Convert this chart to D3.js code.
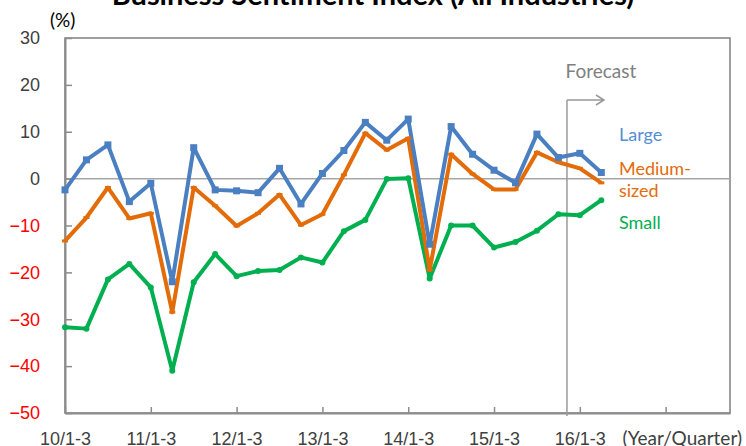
<!DOCTYPE html>
<html>
<head>
<meta charset="utf-8">
<script src="https://cdn.jsdelivr.net/npm/d3@7"></script>
<style>
	body { margin: 0; background: #fff; }
	svg { display: block; font-family: Lato, "Noto Sans", sans-serif; }
	.axis text { font-size: 18px; }
	.axis .domain { stroke: #8c8c8c; stroke-width: 2; }
	.axis .tick line { stroke: #8c8c8c; stroke-width: 1.5; }
	.series { fill: none; stroke-width: 4; stroke-linejoin: round; }
</style>
</head>
<body>
<div id="chart"></div>
<script>

var quarters = [
	"10/1-3","10/4-6","10/7-9","10/10-12",
	"11/1-3","11/4-6","11/7-9","11/10-12",
	"12/1-3","12/4-6","12/7-9","12/10-12",
	"13/1-3","13/4-6","13/7-9","13/10-12",
	"14/1-3","14/4-6","14/7-9","14/10-12",
	"15/1-3","15/4-6","15/7-9","15/10-12",
	"16/1-3","16/4-6","16/7-9","16/10-12",
	"17/1-3","17/4-6","17/7-9","17/10-12"
];

var xTickLabels = ["10/1-3","11/1-3","12/1-3","13/1-3","14/1-3","15/1-3","16/1-3"];
var yTicks = [30, 20, 10, 0, -10, -20, -30, -40, -50];

var large = [-2.4, 4.0, 7.2, -4.9, -1.0, -22.0, 6.6, -2.4, -2.6, -3.0, 2.2, -5.4, 1.1, 6.0, 12.0, 8.2,
	12.7, -14.0, 11.1, 5.2, 1.8, -0.9, 9.5, 4.5, 5.4, 1.3];
var medium = [-13.3, -8.3, -1.9, -8.5, -7.4, -28.5, -1.9, -5.8, -10.1, -7.4, -3.4, -9.9, -7.6, 0.8, 9.7, 6.1,
	8.6, -19.5, 5.2, 1.0, -2.3, -2.3, 5.6, 3.5, 2.2, -0.9];
var small = [-31.7, -32.0, -21.5, -18.2, -23.2, -41.0, -22.1, -16.1, -20.8, -19.7, -19.5, -16.8, -17.9, -11.2, -8.8, -0.1,
	0.1, -21.3, -10.0, -10.0, -14.7, -13.5, -11.1, -7.6, -7.8, -4.6];

var forecastStart = 23.4; // position in quarters, between 15/10-12 and 16/1-3

var width = 746, height = 446,
	margin = {top: 38, right: 16, bottom: 33, left: 65},
	w = width - margin.left - margin.right,
	h = height - margin.top - margin.bottom;

var x = d3.scalePoint().domain(quarters).range([0, w]);
var xi = d3.scaleLinear().domain([0, quarters.length - 1]).range([0, w]);
var y = d3.scaleLinear().domain([-50, 30]).range([h, 0]);

var svg = d3.select("#chart").append("svg")
	.attr("width", width)
	.attr("height", height);

svg.append("text")
	.attr("x", 373)
	.attr("y", 5)
	.attr("text-anchor", "middle")
	.style("font-size", "29px")
	.style("font-weight", "bold")
	.attr("fill", "#000")
	.text("Business Sentiment Index (All Industries)");

svg.append("text")
	.attr("x", 50)
	.attr("y", 27)
	.style("font-size", "19px")
	.attr("fill", "#000")
	.text("(%)");

var g = svg.append("g")
	.attr("transform", "translate(" + margin.left + "," + margin.top + ")");

// plot border
g.append("rect")
	.attr("width", w)
	.attr("height", h)
	.attr("fill", "none")
	.attr("stroke", "#7f7f7f")
	.attr("stroke-width", 1.5);

// zero line
g.append("line")
	.attr("x1", 0).attr("x2", w)
	.attr("y1", y(0)).attr("y2", y(0))
	.attr("stroke", "#a6a6a6")
	.attr("stroke-width", 1.5);

var yAxis = d3.axisLeft(y)
	.tickValues(yTicks)
	.tickSizeInner(-7)
	.tickSizeOuter(0)
	.tickPadding(25);

var yAxisG = g.append("g").attr("class", "y axis").call(yAxis);
yAxisG.selectAll(".tick text")
	.attr("fill", function(d) { return d < 0 ? "#ff0000" : "#404040"; });

var xAxis = d3.axisBottom(x)
	.tickValues(quarters.filter(function(q) { return q.slice(-4) == "/1-3"; }))
	.tickFormat(function(d) { return xTickLabels.indexOf(d) >= 0 ? d : ""; })
	.tickSizeInner(-6)
	.tickSizeOuter(0)
	.tickPadding(19);

var xAxisG = g.append("g")
	.attr("class", "x axis")
	.attr("transform", "translate(0," + h + ")")
	.call(xAxis);
xAxisG.selectAll(".tick text").attr("fill", "#404040");

svg.append("text")
	.attr("x", 742)
	.attr("y", 445)
	.attr("text-anchor", "end")
	.style("font-size", "19px")
	.attr("fill", "#404040")
	.text("(Year/Quarter)");

// forecast marker
var fx = xi(forecastStart), fy = 62;
g.append("line")
	.attr("x1", fx).attr("x2", fx)
	.attr("y1", fy).attr("y2", h + 3)
	.attr("stroke", "#999")
	.attr("stroke-width", 1.5);
g.append("path")
	.attr("d", "M" + fx + "," + fy + "H" + (fx + 37) + "M" + (fx + 29) + "," + (fy - 5) + "L" + (fx + 37) + "," + fy + "L" + (fx + 29) + "," + (fy + 5))
	.attr("fill", "none")
	.attr("stroke", "#999")
	.attr("stroke-width", 1.5);
g.append("text")
	.attr("x", fx + 34)
	.attr("y", 40)
	.attr("text-anchor", "middle")
	.style("font-size", "19px")
	.attr("fill", "#808080")
	.text("Forecast");

var line = d3.line()
	.x(function(d, i) { return x(quarters[i]); })
	.y(function(d) { return y(d); });

var series = [
	{name: "small", data: small, color: "#00b050"},
	{name: "medium", data: medium, color: "#e36c09"},
	{name: "large", data: large, color: "#4a7fc1"}
];

series.forEach(function(s) {
	g.append("path")
		.datum(s.data)
		.attr("class", "series " + s.name)
		.attr("stroke", s.color)
		.attr("d", line);
});

g.selectAll(".dot-small")
	.data(small)
	.enter().append("circle")
	.attr("class", "dot-small")
	.attr("cx", function(d, i) { return x(quarters[i]); })
	.attr("cy", function(d) { return y(d); })
	.attr("r", 3)
	.attr("fill", "#00b050");

g.selectAll(".dot-medium")
	.data(medium)
	.enter().append("rect")
	.attr("class", "dot-medium")
	.attr("x", function(d, i) { return x(quarters[i]) - 3; })
	.attr("y", function(d) { return y(d) - 1.5; })
	.attr("width", 6)
	.attr("height", 3)
	.attr("fill", "#e36c09");

g.selectAll(".dot-large")
	.data(large)
	.enter().append("rect")
	.attr("class", "dot-large")
	.attr("x", function(d, i) { return x(quarters[i]) - 3.5; })
	.attr("y", function(d) { return y(d) - 3.5; })
	.attr("width", 7)
	.attr("height", 7)
	.attr("fill", "#4a7fc1");

// series labels
var labels = [
	{lines: ["Large"], y: 141, color: "#558ed5"},
	{lines: ["Medium-", "sized"], y: 175, color: "#e46c0a"},
	{lines: ["Small"], y: 229, color: "#00b050"}
];

labels.forEach(function(l) {
	var t = svg.append("text")
		.attr("x", 619)
		.attr("y", l.y)
		.style("font-size", "18px")
		.attr("fill", l.color);
	l.lines.forEach(function(s, i) {
		t.append("tspan")
			.attr("x", 619)
			.attr("dy", i == 0 ? 0 : 22)
			.text(s);
	});
});

</script>
</body>
</html>
